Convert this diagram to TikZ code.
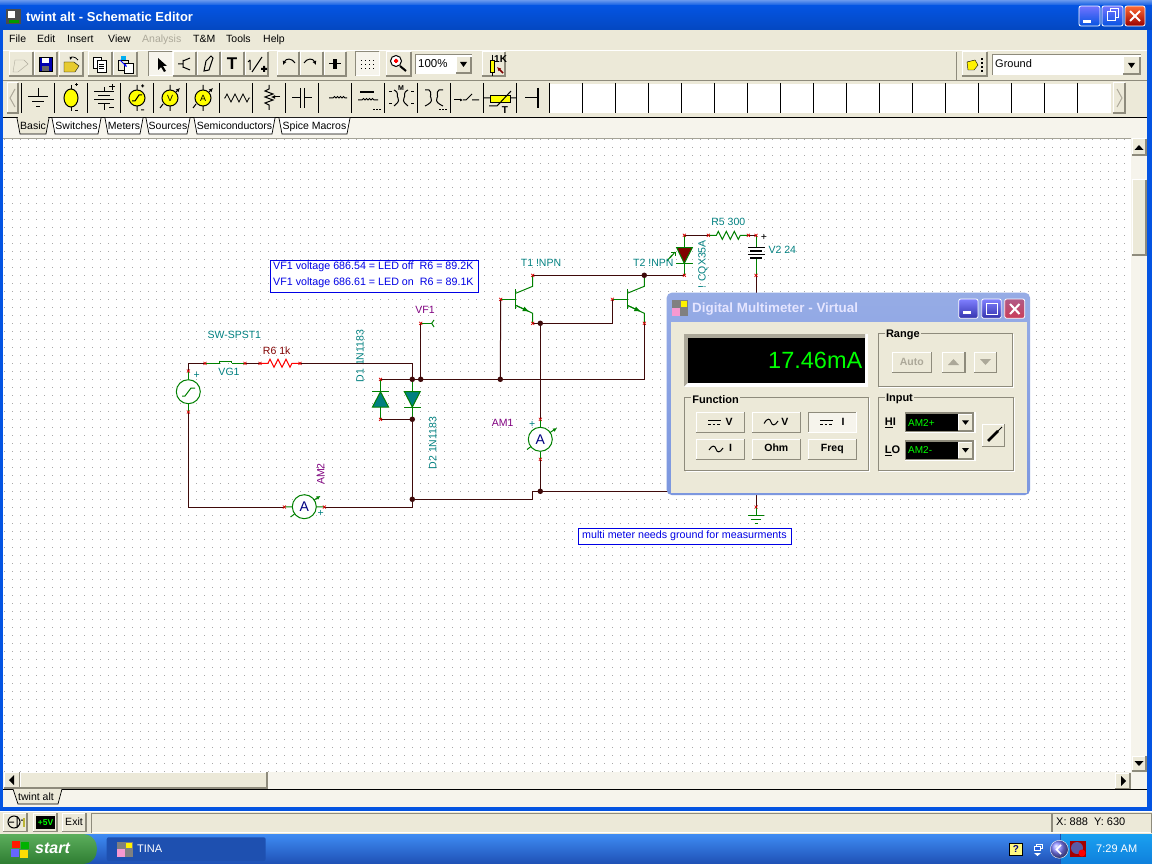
\documentclass[tikz,border=0pt]{standalone}
\usepackage{fontspec}
\setmainfont{Liberation Sans}
\usetikzlibrary{positioning, arrows.meta, shapes.geometric}
\definecolor{panel}{HTML}{ECE9D8}
\definecolor{dither}{HTML}{F6F4EC}
\definecolor{btnshade}{HTML}{8E8B7C}
\definecolor{xpblue}{HTML}{0454E2}
\definecolor{wirecol}{HTML}{3F0A0A}
\definecolor{leadcol}{HTML}{008000}
\definecolor{tealtxt}{HTML}{008080}
\definecolor{plumtxt}{HTML}{800080}
\definecolor{griddot}{HTML}{A8A8A8}
\definecolor{dimtxt}{HTML}{ACA899}
\definecolor{iconyellow}{HTML}{FFFF00}
\definecolor{inactive}{HTML}{7C97DF}
\definecolor{taskblue}{HTML}{245EDC}
\definecolor{tasktop}{HTML}{3F8CF3}
\definecolor{taskdown}{HTML}{1E50B5}
\definecolor{traytop}{HTML}{1AA0F0}
\definecolor{traydown}{HTML}{0F80DC}
\definecolor{startmid}{HTML}{3C963C}
\definecolor{starttop}{HTML}{5CAE5C}
\definecolor{startdown}{HTML}{2E7D32}
\definecolor{taskbtn}{HTML}{1E50B0}
\newcommand{\meterarrow}{-{Latex[length=4pt,width=4pt]}}
\newcommand{\zigzag}{-- ++(2,-4) -- ++(4,8) -- ++(4,-8) -- ++(4,8) -- ++(4,-8) -- ++(4,8) -- ++(2,-4)}
% raised button: name, x1, y1, x2, y2, text
\newcommand{\btn}[6]{
  \fill[panel] (#2,#3) rectangle (#4,#5);
  \draw[white, line width=1pt] (#2,#5) -- (#2,#3) -- (#4,#3);
  \draw[btnshade, line width=1.5pt] (#2,#5) -- (#4,#5) -- (#4,#3);
  \node[uitext, anchor=center] (#1) at ({(#2+#4)/2},{(#3+#5)/2}) {#6};
}
% group box: name, x1, y1, x2, y2, text
\newcommand{\groupbox}[6]{
  \draw[btnshade, line width=0.8pt] (#2,#3) rectangle (#4,#5);
  \draw[white, line width=0.6pt] (#2+1,#5+1) -- (#4+1,#5+1) -- (#4+1,#3+1);
  \node[uibold, fill=panel, inner xsep=1.5pt, anchor=west] (#1) at (#2+6,#3+2) {#6};
}
% npn transistor round its bar centre: name, x, y
\newcommand{\npn}[3]{
  \begin{scope}[shift={(#2,#3)}]
    \coordinate (#1B) at (-15,0);
    \coordinate (#1C) at (17,-24);
    \coordinate (#1E) at (17,24);
    \draw[lead] (#1B) -- (0,0);
    \draw[lead, line width=1.5pt] (0,-10) -- (0,10);
    \draw[lead] (0,-6) -- (17,-13) -- (#1C);
    \draw[lead] (0,6) -- (17,14) -- (#1E);
    \draw[lead, -{Latex[length=7pt,width=5pt]}] (0,6) -- (14,12.5);
  \end{scope}
}
\tikzset{
  uitext/.style={font=\fontsize{10.5}{12}\selectfont, text=black, inner sep=0pt, anchor=west, text height=8pt, text depth=2.5pt},
  uibold/.style={font=\fontsize{11}{12}\selectfont\bfseries, text=black, inner sep=0pt, anchor=west},
  wire/.style={wirecol, line width=1pt},
  lead/.style={leadcol, line width=1pt},
  pinmark/.style={red!85!black, line width=0.7pt},
  junction/.style={circle, fill=wirecol, inner sep=0pt, minimum size=5.5pt},
  teallabel/.style={font=\fontsize{10.5}{12}\selectfont, text=tealtxt, inner sep=0pt},
  plumlabel/.style={font=\fontsize{10.5}{12}\selectfont, text=plumtxt, inner sep=0pt},
  meter/.style={circle, draw=leadcol, fill=white, line width=1pt, minimum size=24pt, inner sep=0pt,
    font=\fontsize{14}{14}\selectfont, text=blue!50!black},
  notebox/.style={draw=blue!90!black, fill=white, line width=1pt, font=\fontsize{10.7}{16}\selectfont,
    text=blue!90!black, inner sep=0pt, align=left},
  notetext/.style={font=\fontsize{10.7}{16}\selectfont, text=blue!90!black, inner sep=0pt, anchor=west},
  icon/.style={black, line width=1pt},
  lcdtext/.style={font=\fontsize{10}{12}\selectfont, text=green, inner sep=0pt, anchor=west},
  capbtn/.style={draw=white, rounded corners=2pt, line width=0.8pt}
}
\begin{document}
\begin{tikzpicture}[x=1pt, y=-1pt]
\useasboundingbox (0,0) rectangle (1152,864);
% window frame
\fill[xpblue] (0,0) rectangle (1152,864);
\shade[top color=xpblue!60!white, bottom color=xpblue] (0,0) rectangle (1152,6);
\shade[top color=xpblue, bottom color=xpblue!85!black] (0,6) rectangle (1152,30);
\node[inner sep=0pt, font=\fontsize{13}{14}\selectfont\bfseries, text=white, anchor=west] (title) at (26,17) {twint alt - Schematic Editor};
\fill[black!70] (6,9) rectangle (21,24);
\fill[white] (8,11) rectangle (15,18);
\fill[green!60!black] (9,20) rectangle (19,23);
\shadedraw[top color=blue!55!white, bottom color=xpblue, capbtn] (1079,6) rectangle (1100,26);
\fill[white] (1083,20) rectangle (1091,23);
\shadedraw[top color=blue!55!white, bottom color=xpblue, capbtn] (1102,6) rectangle (1123,26);
\draw[white, line width=1pt] (1107,12) rectangle (1115,21) (1110,12) -- (1110,9) -- (1118,9) -- (1118,18) -- (1115,18);
\shadedraw[top color=red!45!orange!80, bottom color=red!60!black, capbtn] (1125,6) rectangle (1145,26);
\draw[white, line width=2pt] (1130,11) -- (1140,21) (1140,11) -- (1130,21);
% menu and toolbars
\fill[panel] (3,30) rectangle (1147,118);
\draw[white, line width=1pt] (3,50.5) -- (1147,50.5);
\draw[btnshade, line width=0.6pt] (3,80) -- (1147,80) (956,52) -- (956,80);
\foreach \lbl/\mx/\nm in {File/9/file, Edit/37/edit, Insert/67/insert, View/108/view, T\&M/193/tm, Tools/226/tools, Help/263/help}
  \node[uitext] (menu\nm) at (\mx,40) {\lbl};
\node[uitext, text=dimtxt] (menuanalysis) at (142,40) {Analysis};
% first toolbar
\foreach \bx/\by [count=\bi] in {9/33, 34/57, 59/83, 88/112, 113/137, 173/196, 197/220, 221/244, 245/268, 277/299, 300/323, 324/346, 386/411, 482/505, 962/987}
  {\btn{tool\bi}{\bx}{52}{\by}{76}{}}
\fill[dither] (148,52) rectangle (172,76);
\draw[white, line width=1pt] (148,76) -- (172,76) -- (172,52);
\draw[btnshade, line width=1pt] (148,76) -- (148,52) -- (172,52);
\fill[dither] (355,52) rectangle (379,76);
\draw[white, line width=1pt] (355,76) -- (379,76) -- (379,52);
\draw[btnshade, line width=1pt] (355,76) -- (355,52) -- (379,52);
\foreach \dx in {361,365,369,373} \foreach \dy in {60,64,68} \fill[black] (\dx,\dy) rectangle ++(1,1);
% toolbar glyphs
\draw[dimtxt, fill=panel] (15,60) -- (24,60) -- (28,64) -- (18,72) -- (13,72) -- cycle;
\draw[black, fill=blue!70!black] (39,57) rectangle (52,71);
\fill[white] (42,58) rectangle (49,63);
\fill[black!60] (42,66) rectangle (49,71);
\draw[black, fill=yellow!60!brown] (64,62) -- (74,62) -- (79,66) -- (75,72) -- (64,72) -- cycle;
\draw[black, line width=0.8pt, -{Latex[length=3pt,width=3pt]}] (78,60) .. controls (75,56) and (71,57) .. (70,60);
\draw[black, fill=white] (93,57) rectangle (101,68);
\draw[black, fill=white] (97,60) rectangle (106,72);
\draw[black] (99,64) -- (104,64) (99,66) -- (104,66) (99,68) -- (104,68);
\draw[black, fill=panel] (118,60) rectangle (128,70);
\fill[cyan] (121,56) rectangle (126,60);
\draw[black, fill=white] (124,63) rectangle (133,73);
\draw[blue, line width=1pt, -{Latex[length=3pt,width=3pt]}] (120,60) -- (127,67);
\fill[black] (158,58) -- (158,70) -- (161,67) -- (164,72) -- (166,71) -- (163,66) -- (167,66) -- cycle;
\draw[icon] (178,64) -- (183,64) (183,60) -- (183,68) (183,61) -- (190,58) (183,67) -- (190,70);
\draw[icon] (204,71) -- (206,61) -- (211,56) -- (213,58) -- (209,70) -- cycle;
\node[font=\fontsize{17}{17}\selectfont\bfseries, inner sep=0pt, text=black] (toolT) at (232,64) {\rmfamily T};
\draw[icon] (250,60) -- (250,70) (248,62) -- (250,60) (252,72) -- (262,57);
\fill[black] (263,66) rectangle ++(2,6) (261,68) rectangle ++(6,2);
\draw[icon, -{Latex[length=4pt,width=4pt]}] (295,63) .. controls (292,58) and (286,58) .. (283,65);
\draw[icon, -{Latex[length=4pt,width=4pt]}] (304,63) .. controls (307,58) and (313,58) .. (316,65);
\draw[icon] (329,64) -- (341,64);
\fill[black] (333,59) rectangle (337,69);
\draw[black, fill=white, line width=1pt] (396,61) circle (5.5pt);
\fill[red] (394,60) rectangle (398,62) (395,59) rectangle (397,63);
\draw[black, line width=2pt] (400,66) -- (406,71);
% zoom combo
\fill[white] (415,55) rectangle (472,74);
\draw[btnshade, line width=1pt] (415,74) -- (415,55) -- (472,55);
\btn{zoomdrop}{456}{57}{471}{73}{}
\fill[black] (460,62) -- (467,62) -- (463.5,67) -- cycle;
\node[uitext, font=\fontsize{11.5}{12}\selectfont] (zoomval) at (418,65) {100\%};
\draw[black, fill=iconyellow] (490,60) rectangle (494,72);
\draw[black] (492,55) -- (492,60) (492,72) -- (492,76);
\node[uitext, font=\fontsize{10}{10}\selectfont\bfseries] (tool1k) at (494,60) {1K};
\draw[red!50!black, line width=1.5pt, -{Latex[length=4pt,width=4pt]}] (503,73) -- (497,67);
\fill[yellow] (967,62) -- (975,60) -- (978,65) -- (974,70) -- (968,70) -- cycle;
\draw[black] (967,62) -- (975,60) -- (978,65) -- (974,70) -- (968,70) -- cycle;
\foreach \ty in {58,62,66,70} \fill[black] (981,\ty) rectangle ++(2,2);
% component combo
\fill[white] (992,55) rectangle (1141,75);
\draw[btnshade, line width=1pt] (992,75) -- (992,55) -- (1141,55);
\btn{partdrop}{1123}{57}{1140}{74}{}
\fill[black] (1128,63) -- (1135,63) -- (1131.5,68) -- cycle;
\node[uitext, font=\fontsize{11}{12}\selectfont] (partval) at (995,65) {Ground};
% part palette
\btn{palleft}{7}{83}{18}{113}{}
\draw[dimtxt, line width=1pt] (15,89) -- (10,98) -- (15,107);
\btn{palright}{1113}{83}{1125}{113}{}
\draw[dimtxt, line width=1pt] (1117,89) -- (1122,98) -- (1117,107);
\fill[white] (550,84) rectangle (1111,113);
\draw[black, line width=1pt] (21,83) -- (21,113);
\foreach \sx in {54,87,120,153,186,219,252,285,318,351,384,417,450,483,516,549,582,615,648,681,714,747,780,813,846,879,912,945,978,1011,1044,1077}
  \draw[black, line width=1pt] (\sx.5,83) -- (\sx.5,113);
% palette icons
\draw[icon] (38,88) -- (38,97) (28,97) -- (48,97) (32,102) -- (44,102) (36,107) -- (40,107);
\draw[icon, fill=iconyellow] (71,98) ellipse (7pt and 9pt);
\draw[icon] (71,85) -- (71,89) (71,107) -- (71,111) (75,85) -- (78,85) (76.5,83.5) -- (76.5,86.5) (75,111) -- (78,111);
\draw[icon] (104,87) -- (104,92) (94,92) -- (114,92) (98,96) -- (110,96) (94,100) -- (114,100) (98,104) -- (110,104) (104,104) -- (104,110);
\draw[icon] (109,87) -- (115,87) (112,84) -- (112,90) (109,108) -- (114,108);
\draw[icon, fill=iconyellow] (137,98) circle (8pt);
\draw[icon] (137,85) -- (137,90) (137,106) -- (137,111) (132,101) -- (135,101) -- (139,95) -- (142,95) (141,86) -- (144,86) (142.5,84.5) -- (142.5,87.5) (141,110) -- (144,110);
\draw[icon, fill=iconyellow] (170,98) circle (8pt);
\draw[icon] (170,85) -- (170,90) (170,106) -- (170,111) (160,108) -- (163,104);
\draw[icon, \meterarrow] (176,92) -- (180,88);
\node[inner sep=0pt, font=\fontsize{9}{9}\selectfont, text=black] (palV) at (170,98) {V};
\draw[icon, fill=iconyellow] (203,98) circle (8pt);
\draw[icon] (203,85) -- (203,90) (203,106) -- (203,111) (193,108) -- (196,104);
\draw[icon, \meterarrow] (209,92) -- (213,88);
\node[inner sep=0pt, font=\fontsize{9}{9}\selectfont, text=black] (palA) at (203,98) {A};
\draw[icon, line width=0.8pt] (224,98) -- ++(1,0) \zigzag -- ++(1,0);
\draw[icon] (269,85) -- (269,89) -- (265,91) -- (273,94) -- (265,97) -- (273,100) -- (265,103) -- (269,105) -- (269,110);
\draw[icon, -{Latex[length=4pt,width=4pt]}] (280,97) -- (271,97);
\draw[icon] (292,98) -- (300,98) (300,88) -- (300,108) (304,88) -- (304,108) (304,98) -- (312,98);
\draw[icon] (329,98) -- (333,98) (333,98) arc (180:0:1.5pt) arc (180:0:1.5pt) arc (180:0:1.5pt) arc (180:0:1.5pt) -- (347,98);
\draw[black, line width=2pt] (360,92) -- (374,92);
\draw[icon] (358,100) -- (362,100) arc (180:0:1.5pt) arc (180:0:1.5pt) arc (180:0:1.5pt) arc (180:0:1.5pt) -- (378,100);
\foreach \dx in {373,376,379} \fill[black] (\dx,109) rectangle ++(1.5,1.5);
\node[inner sep=0pt, font=\fontsize{7}{7}\selectfont\bfseries, text=black] (palM) at (401,88) {M};
\draw[icon] (394,90) .. controls (400,93) and (396,96) .. (398,98) .. controls (400,102) and (396,104) .. (394,106);
\draw[icon] (408,90) .. controls (402,93) and (406,96) .. (404,98) .. controls (402,102) and (406,104) .. (408,106);
\draw[icon] (389,92) -- (392,92) (389,104) -- (392,104) (411,92) -- (414,92) (411,104) -- (414,104);
\draw[icon] (425,90) -- (429,90) .. controls (433,93) and (429,96) .. (431,98) .. controls (433,102) and (429,104) .. (425,106);
\draw[icon] (443,90) -- (439,90) .. controls (435,93) and (439,96) .. (437,98) .. controls (435,102) and (439,104) .. (443,106);
\foreach \dx in {439,442,445} \fill[black] (\dx,109) rectangle ++(1.5,1.5);
\draw[icon, -{Latex[length=3pt,width=3pt]}] (454,100) -- (463,100);
\draw[icon] (463,100) -- (466,100) (466,100) -- (472,94) (472,100) -- (479,100);
\fill[iconyellow, draw=black] (490,95) rectangle (510,102);
\draw[icon] (484,98) -- (490,98) (510,98) -- (516,98) (489,106) -- (497,106) -- (511,91);
\node[inner sep=0pt, font=\fontsize{10}{10}\selectfont\bfseries, text=black] (palT) at (505,110) {T};
\draw[icon] (525,98) -- (537,98);
\draw[black, line width=1.5pt] (538,88) -- (538,108);
% tabs
\fill[dither] (3,118) rectangle (1147,138);
\draw[black, line width=1pt] (3,118) -- (1147,118);
\foreach \tabx/\taby/\lbl [count=\ti] in {108/140/Meters, 149/187/Sources, 197/272/Semiconductors, 282/347/Spice Macros, 55/98/Switches}
  {\draw[black, fill=white, line width=0.7pt] (\tabx-3,118) -- (\tabx,134) -- (\taby,134) -- (\taby+3,118);
   \node[uitext, anchor=center] (tab\ti) at ({(\tabx+\taby)/2},127) {\lbl};}
\draw[black, fill=panel, line width=0.7pt] (17,118) -- (20,134) -- (46,134) -- (49,118);
\fill[panel] (18,117) rectangle (48,119);
\node[uitext, anchor=center] (tabbasic) at (33,127) {Basic};
% canvas
\fill[white] (3,138) rectangle (1131,772);
\draw[panel!70!black, line width=0.7pt] (3,138) -- (1147,138);
\foreach \gx in {4.3,12.3,...,1130}
  \draw[griddot, line width=1pt, dash pattern=on 1pt off 7pt] (\gx,139.3) -- (\gx,772);
% scroll bars
\fill[dither] (1131,138) rectangle (1147,772);
\btn{vsup}{1132}{139}{1146}{155}{}
\fill[black] (1134.5,150) -- (1143.5,150) -- (1139,145) -- cycle;
\btn{vthumb}{1132}{180}{1146}{255}{}
\btn{vsdown}{1132}{756}{1146}{771}{}
\fill[black] (1134.5,761) -- (1143.5,761) -- (1139,766) -- cycle;
\fill[dither] (3,772) rectangle (1147,807);
\btn{hsleft}{4}{772}{20}{788}{}
\fill[black] (14,775) -- (14,785) -- (9,780) -- cycle;
\btn{hsthumb}{20}{772}{267}{788}{}
\btn{hsright}{1115}{773}{1130}{789}{}
\fill[black] (1121,776) -- (1121,786) -- (1126,781) -- cycle;
\draw[black, line width=1pt] (3,789.5) -- (1147,789.5);
\draw[black, fill=panel, line width=0.7pt] (13,789) -- (18,804) -- (58,804) -- (62,789);
\fill[panel] (14,788.5) rectangle (61,790);
\node[uitext, anchor=center] (tabsheet) at (36,798) {twint alt};
% circuit coordinates
\coordinate (jA) at (412.3,379.3);
\coordinate (jB) at (420.7,379.3);
\coordinate (jC) at (500.3,379.3);
\coordinate (jD) at (412.3,419.3);
\coordinate (jE) at (412.3,499.3);
\coordinate (jF) at (540.3,491.3);
\coordinate (jG) at (540.3,323.3);
\coordinate (jH) at (644.3,275.3);
\coordinate (srcT) at (188.3,371);
\coordinate (srcB) at (188.3,412);
\coordinate (corTL) at (188.3,363.3);
\coordinate (corBL) at (188.3,507);
\coordinate (corBR) at (412.3,507);
\coordinate (swL) at (205,363.3);
\coordinate (swR) at (245,363.3);
\coordinate (r6L) at (260,363.3);
\coordinate (r6R) at (300,363.3);
\coordinate (corTR) at (412.3,363.3);
\coordinate (vfP) at (420.7,323.3);
\coordinate (vfT) at (431.7,323.3);
\coordinate (d1T) at (380.5,379.3);
\coordinate (d1B) at (380.5,419.3);
\coordinate (am2L) at (284.3,507);
\coordinate (am2R) at (324.3,507);
\coordinate (am1T) at (540.3,419.3);
\coordinate (am1B) at (540.3,459.3);
\coordinate (stepA) at (532.7,499.3);
\coordinate (stepB) at (532.7,491.3);
\coordinate (ledB) at (684.3,275.3);
\coordinate (ledT) at (684.3,235.3);
\coordinate (r5L) at (708.3,235.3);
\coordinate (r5R) at (748.3,235.3);
\coordinate (v2T) at (756,235.3);
\coordinate (v2B) at (756,275.3);
\coordinate (gndP) at (756,507);
\coordinate (busR) at (644.3,379.3);
\coordinate (meterR) at (756,491.3);
\npn{tA}{515.7}{299.3}
\npn{tB}{627.3}{299.3}
% labels under the wires
\node[teallabel, rotate=90] (d1name) at (360,356) {D1 1N1183};
% wires
\draw[wire] (srcT) -- (corTL) -- (swL);
\draw[wire] (swR) -- (r6L);
\draw[wire] (r6R) -- (corTR) -- (jE) -- (corBR) -- (am2R);
\draw[wire] (am2L) -- (corBL) -- (srcB);
\draw[wire] (d1T) -- (jA) -- (jB) -- (jC) -- (busR) -- (tBE);
\draw[wire] (jB) -- (vfP);
\draw[wire] (d1B) -- (jD);
\draw[wire] (jE) -- (stepA) -- (stepB) -- (jF) -- (meterR);
\draw[wire] (jF) -- (am1B);
\draw[wire] (am1T) -- (jG);
\draw[wire] (tAE) -- (jG) -| (tBB);
\draw[wire] (jC) -- (tAB);
\draw[wire] (tAC) -- (jH) -- (ledB);
\draw[wire] (ledT) -- (r5L);
\draw[wire] (r5R) -- (v2T);
\draw[wire] (v2B) -- (gndP);
% source and switch
\node[circle, draw=leadcol, line width=1pt, fill=white, minimum size=24pt, inner sep=0pt] (vsrc) at (188.3,391.7) {};
\draw[lead] (srcT) -- (vsrc.north);
\draw[lead] (vsrc.south) -- (srcB);
\draw[lead, line width=1pt] (182,396) -- (185,396) -- (191,388) -- (195,388);
\draw[lead] (swL) -- (219.5,363.3);
\draw[lead] (231.5,363.3) -- (swR);
\draw[lead] (219.5,361.5) -- (231.5,361.5) (219.5,360.5) -- (219.5,363.3) (231.5,360.5) -- (231.5,363.3);
\draw[lead, red] (r6L) -- ++(8,0) \zigzag -- (r6R);
\draw[lead] (vfP) -- (vfT);
\draw[lead] (431.7,323.3) -- (434,320) (431.7,323.3) -- (434,327);
% diodes
\draw[lead] (d1T) -- (380.5,391.7) (380.5,407) -- (d1B);
\draw[lead] (372,391) -- (389,391);
\draw[lead, fill=tealtxt] (380.5,391.7) -- (372.5,407) -- (388.5,407) -- cycle;
\draw[lead] (jA) -- (412.3,391) (412.3,407) -- (jD);
\draw[lead] (404,407) -- (421,407);
\draw[lead, fill=tealtxt] (404.3,391.5) -- (420.3,391.5) -- (412.3,407) -- cycle;
% meters
\node[meter] (amB) at (304.3,506.7) {A};
\draw[lead] (am2L) -- (amB) (am2R) -- (amB);
\draw[lead] (290.5,517) -- (294.5,514);
\draw[lead, \meterarrow] (314,500) -- (320.5,496);
\node[meter] (amA) at (540.3,439.3) {A};
\draw[lead] (am1T) -- (amA) (am1B) -- (amA);
\draw[lead] (527,449.5) -- (531,446.5);
\draw[lead, \meterarrow] (550,432.5) -- (557,428);
% led, resistor, battery, ground
\draw[lead] (ledB) -- (684.3,263.3) (684.3,248) -- (ledT);
\draw[lead] (676,263.3) -- (693,263.3);
\draw[lead, fill=red!50!black] (676.7,247.7) -- (692.3,247.7) -- (684.3,263.3) -- cycle;
\draw[lead] (670,258) -- (675,252) (667,261) -- (672,255);
\draw[lead] (671,252) -- (675,252) -- (675,256);
\draw[lead] (r5L) -- ++(8,0) \zigzag -- (r5R);
\draw[lead] (v2T) -- (756,247.3) (756,258) -- (v2B);
\draw[black, line width=1pt] (748,247.3) -- (765,247.3) (748,254.3) -- (765,254.3);
\draw[black, line width=2pt] (750,251) -- (762,251) (750,258) -- (762,258);
\draw[lead] (gndP) -- (756,515) (748,515) -- (764,515) (751,519.5) -- (761,519.5) (754.5,523.5) -- (757.5,523.5);
% pin marks
\foreach \p in {srcT, srcB, swL, swR, r6L, r6R, vfP, d1T, d1B, am2L, am2R, am1T, am1B, tAB, tAC, tAE, tBB, tBE, ledB, ledT, r5L, r5R, v2T, v2B, gndP}
  \draw[pinmark] (\p) ++(-1.5,-1.5) -- ++(3,3) ++(0,-3) -- ++(-3,3);
% junctions
\foreach \p in {jA, jB, jC, jD, jE, jF, jG, jH}
  \node[junction] (dot\p) at (\p) {};
% labels
\node[plumlabel] (vfname) at (425,310) {VF1};
\node[teallabel] (swname) at (234.3,335.3) {SW-SPST1};
\node[teallabel] (vgname) at (229,372) {VG1};
\node[teallabel, text=red!50!black] (r6name) at (276.7,350.7) {R6 1k};
\node[teallabel, rotate=90] (d2name) at (432.7,443) {D2 1N1183};
\node[plumlabel, rotate=90] (am2name) at (320.7,474) {AM2};
\node[plumlabel] (am1name) at (502.7,423.3) {AM1};
\node[teallabel] (t1name) at (541,263.3) {T1 !NPN};
\node[teallabel] (t2name) at (653.3,263.3) {T2 !NPN};
\node[teallabel, rotate=90, anchor=east] (ledname) at (703,240) {! CQX35A};
\node[teallabel] (r5name) at (728.3,222.3) {R5 300};
\node[teallabel] (v2name) at (782.3,250) {V2 24};
\node[teallabel] (plusA) at (196.7,375.3) {+};
\node[teallabel] (plusB) at (320.7,513) {+};
\node[teallabel] (plusC) at (532.3,424.3) {+};
\node[teallabel, text=black] (plusD) at (764,237.3) {+};
% notes
\node[notebox, minimum width=208pt, minimum height=32pt, anchor=north west] (notetop) at (269.5,259.5) {};
\node[notetext] (noteA) at (273,266.3) {VF1 voltage 686.54 = LED off \ R6 = 89.2K};
\node[notetext] (noteB) at (273,282.5) {VF1 voltage 686.61 = LED on \ R6 = 89.1K};
\node[notebox, minimum width=213pt, minimum height=16pt, anchor=north west] (notegnd) at (577.5,527.5) {multi meter needs ground for measurments};
% multimeter window
\shade[top color=inactive!80!white, bottom color=inactive, rounded corners=5pt] (666.7,292.7) rectangle (1030,495);
\fill[panel] (670.7,322.3) rectangle (1026.7,492.5);
\node[inner sep=0pt, font=\fontsize{13.4}{14}\selectfont\bfseries, text=blue!10!white, anchor=west] (dmmtitle) at (692,309) {Digital Multimeter - Virtual};
\fill[black!50] (672,300) rectangle (688,308);
\fill[yellow] (681,301) rectangle (687,307);
\fill[magenta!40] (672,308) rectangle (680,316);
\fill[black!50] (680,308) rectangle (688,316);
\shadedraw[top color=blue!50!white, bottom color=blue!60!black!80, capbtn] (958.7,299) rectangle (978,318.3);
\fill[white] (962.5,311) rectangle (971,314);
\shadedraw[top color=blue!50!white, bottom color=blue!60!black!80, capbtn] (981.7,299) rectangle (1001.3,318.3);
\draw[white, line width=1pt] (986,303.5) rectangle (997,314);
\shadedraw[top color=red!40!inactive, bottom color=red!60!inactive, capbtn] (1004.7,299) rectangle (1024.7,318.3);
\draw[white, line width=2pt] (1010,304) -- (1019.5,314) (1019.5,304) -- (1010,314);
% display
\fill[white] (684,334) rectangle (868,386.7);
\fill[dimtxt] (684,334) -- (865,334) -- (865,338.3) -- (688,338.3) -- (688,382.7) -- (684,386.7) -- cycle;
\fill[black] (688,338.3) rectangle (865,382.7);
\node[inner sep=0pt, font=\fontsize{23.5}{24}\selectfont, text=green, anchor=east] (readout) at (862.5,360.7) {17.46mA};
\groupbox{grpfunc}{684.7}{397.3}{868}{470}{Function}
\groupbox{grprange}{878.3}{333.3}{1012.3}{386}{Range}
\groupbox{grpinput}{878.3}{397.3}{1013}{470}{Input}
\btn{btnauto}{892}{352.3}{931.7}{372.3}{\textcolor{dimtxt}{\bfseries Auto}}
\btn{btnup}{942.3}{352.3}{965}{372.3}{}
\fill[dimtxt] (948,365) -- (959,365) -- (953.5,359) -- cycle;
\btn{btndn}{974}{352.3}{996.7}{372.3}{}
\fill[dimtxt] (980,359) -- (991,359) -- (985.5,365) -- cycle;
% function buttons
\btn{btnDCV}{696.3}{412.3}{744.7}{432.7}{\bfseries\hspace{17pt}V}
\btn{btnACV}{752}{412.3}{800.7}{432.7}{\bfseries\hspace{17pt}V}
\btn{btnDCI}{808}{412.3}{856.7}{432.7}{}
\fill[dither] (808,412.3) rectangle (856.7,432.7);
\draw[btnshade, line width=1pt] (808,432.7) -- (808,412.3) -- (856.7,412.3);
\draw[white, line width=1pt] (808,432.7) -- (856.7,432.7) -- (856.7,412.3);
\node[uitext, anchor=center] (btnDCIt) at (843,422.5) {\bfseries I};
\btn{btnACI}{696.3}{439}{744.7}{459.3}{\bfseries\hspace{20pt}I}
\btn{btnOhm}{752}{439}{800.7}{459.3}{\bfseries Ohm}
\btn{btnFreq}{808}{439}{856.7}{459.3}{\bfseries Freq}
\foreach \ix in {708,820}
  {\draw[black, line width=1pt] (\ix,420.5) -- ++(13,0);
   \draw[black, line width=1pt, dash pattern=on 2.5pt off 2pt] (\ix,424) -- ++(13,0);}
\draw[black, line width=1pt] (764,423.5) .. controls (767,418) and (770,418) .. (771,422) .. controls (772,426) and (775,426) .. (778,421);
\draw[black, line width=1pt] (709,450) .. controls (712,445) and (715,445) .. (716,449) .. controls (717,453) and (720,453) .. (723,448);
% input selectors
\node[uibold] (lblHI) at (884.7,422.7) {\underline{H}I};
\node[uibold] (lblLO) at (884.7,450.7) {\underline{L}O};
\foreach \iy/\lbl/\nm in {412.3/AM2+/hi, 440/AM2-/lo}
  {\fill[white] (904.7,\iy) rectangle (975.5,\iy+21);
   \fill[btnshade] (904.7,\iy) rectangle (974,\iy+20);
   \fill[black] (906,\iy+2) rectangle (958,\iy+18.5);
   \node[lcdtext] (sel\nm) at (908,\iy+10.5) {\lbl};
   \btn{seldrop\nm}{958}{\iy+2}{973}{\iy+18.5}{}
   \fill[black] (962,\iy+8) -- (969,\iy+8) -- (965.5,\iy+12.5) -- cycle;}
\btn{btnprobe}{982}{424}{1004.7}{446.7}{}
\draw[black, line width=2.5pt] (988,441) -- (998,431);
\draw[black, line width=0.8pt] (998,431) -- (1002,427);
% bottom bar
\fill[panel] (0,811) rectangle (1152,834);
\draw[white, line width=0.8pt] (0,811.5) -- (1152,811.5);
\draw[btnshade, line width=0.8pt] (91,813) rectangle (1051,832);
\draw[btnshade, line width=0.8pt] (1052,813) rectangle (1151,832);
\draw[white, line width=0.6pt] (92,832.5) -- (1151,832.5);
\btn{stIcon}{3}{813}{27}{831.5}{}
\draw[black, line width=1pt] (14,822) circle (6pt) (9,822) -- (14,822) (17,816) -- (17,828) (21,820) -- (24,820);
\fill[yellow!70!black] (23,818) rectangle (25,827);
\btn{stMeter}{33}{813}{57}{831.5}{}
\fill[black] (36,816) rectangle (55,829);
\node[inner sep=0pt, font=\fontsize{8.5}{9}\selectfont\bfseries, text=green, anchor=center] (stMeterT) at (45.5,822.5) {+5V};
\btn{stExit}{62}{813}{86}{831.5}{Exit}
\node[uitext, font=\fontsize{11}{12}\selectfont] (coords) at (1056,823) {X: 888 \ Y: 630};
% taskbar
\shade[top color=tasktop, middle color=taskblue, bottom color=taskdown] (0,834) rectangle (1152,864);
\shade[top color=traytop, bottom color=traydown] (1060,834) rectangle (1152,864);
\draw[taskbtn, line width=0.8pt] (1060,834) -- (1060,864);
\shade[top color=starttop, middle color=startmid, bottom color=startdown] (0,834) -- (82,834) .. controls (93,834) and (97,842) .. (97,849) .. controls (97,856) and (93,864) .. (82,864) -- (0,864) -- cycle;
\fill[red!80!orange] (12,841) rectangle (20,848);
\fill[green!70!black] (21,842) rectangle (29,849);
\fill[blue!60!white] (11,849) rectangle (19,857);
\fill[yellow!80!orange] (20,850) rectangle (28,858);
\node[inner sep=0pt, font=\fontsize{16}{16}\selectfont\bfseries\itshape, text=white, anchor=west] (startlbl) at (35,848.5) {start};
\fill[taskbtn, rounded corners=2pt] (106.7,837.3) rectangle (265.7,861);
\fill[black!50] (117,842) rectangle (133,849);
\fill[yellow] (126,843) rectangle (132,848);
\fill[magenta!40] (117,849) rectangle (125,857);
\fill[black!50] (125,849) rectangle (133,857);
\node[uitext, text=white, font=\fontsize{11}{12}\selectfont] (taskTina) at (137,850) {TINA};
\draw[black, fill=yellow!50!white, line width=0.8pt] (1009,843) rectangle (1022.5,855);
\node[inner sep=0pt, font=\fontsize{10}{10}\selectfont\bfseries, text=blue!50!black] (helpq) at (1016,849) {?};
\draw[white, line width=0.8pt] (1036,844) rectangle ++(6,4);
\draw[white, line width=0.8pt, fill=taskblue] (1034,846) rectangle ++(6,4);
\fill[white] (1034,853) -- (1041,853) -- (1037.5,856) -- cycle;
\shadedraw[ball color=blue!50!white, draw=white] (1059.3,849.3) circle (9pt);
\draw[white, line width=1.5pt] (1061,845) -- (1056.5,849.5) -- (1061,854);
\fill[red!65!black] (1070,841) rectangle (1086,857);
\fill[blue!30!gray] (1077,848) circle (6pt);
\fill[red] (1082,853) circle (3.5pt);
\node[uitext, text=white, font=\fontsize{11}{12}\selectfont] (clock) at (1096,850) {7:29 AM};
\end{tikzpicture}
\end{document}
